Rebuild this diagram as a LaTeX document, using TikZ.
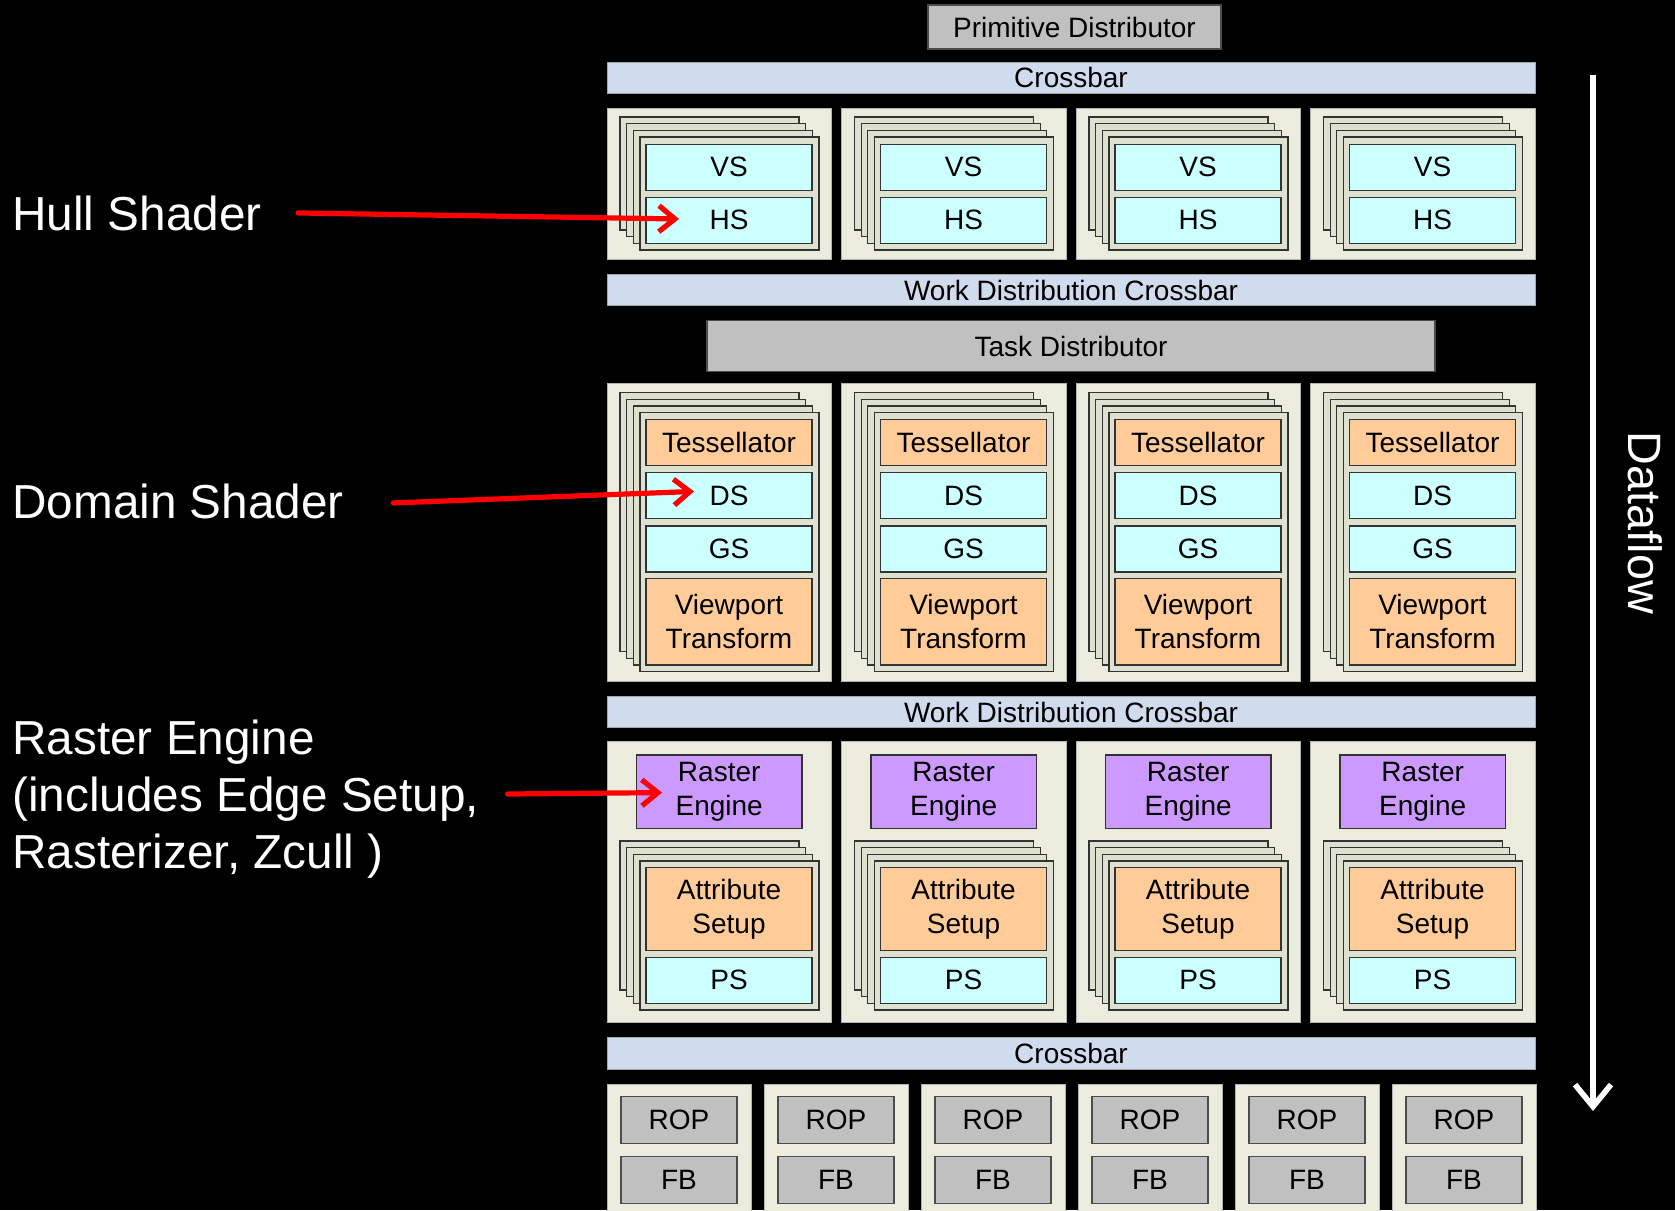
\documentclass[tikz,border=0pt]{standalone}
\usepackage{fontspec}
\setmainfont{Liberation Sans}
\usetikzlibrary{arrows.meta,positioning}

\definecolor{xbarblue}{RGB}{208,219,237}
\definecolor{colfill}{RGB}{235,235,222}
\definecolor{layerfill}{RGB}{222,225,207}
\definecolor{shaderblue}{RGB}{204,255,255}
\definecolor{fixorange}{RGB}{255,204,153}
\definecolor{rasterpurple}{RGB}{204,153,255}
\definecolor{unitgray}{RGB}{192,192,192}

\begin{document}
\begin{tikzpicture}[x=0.5pt,y=-0.5pt,
  every node/.style={inner sep=0pt,font=\fontsize{14}{17}\selectfont},
  bar/.style={draw=gray!70,line width=0.5pt,fill=xbarblue,minimum width=464pt,minimum height=15.5pt},
  colbox/.style={draw=gray!60,line width=0.5pt,fill=colfill,minimum width=112.25pt},
  layer/.style={draw=black!80,line width=0.6pt,fill=layerfill},
  unit/.style={draw=black!80,line width=0.6pt,minimum width=83pt,minimum height=23pt,align=center},
  shader/.style={unit,fill=shaderblue},
  fixfn/.style={unit,fill=fixorange},
  graybox/.style={draw=black!70,line width=0.6pt,fill=unitgray},
  callout/.style={text=white,font=\fontsize{23.85}{28.5}\selectfont,align=left},
  redarrow/.style={draw=red,line width=2.6pt,line cap=round,-{Straight Barb[length=8pt,width=13pt]}},
  flowarrow/.style={draw=white,line width=2.8pt,-{Straight Barb[length=11pt,width=18pt]}}]
\useasboundingbox (0,0) rectangle (1675,1210);
\clip (0,0) rectangle (1675,1210);
\fill[black] (0,0) rectangle (1675,1210);

% front end
\node[graybox,minimum width=146.5pt,minimum height=22pt] (primdist) at (1074.5,27) {Primitive Distributor};
\node[bar] (xbartop) at (1071,77.5) {Crossbar};

% vertex / hull shader clusters
\foreach \i in {0,...,3}{
  \pgfmathsetmacro{\cx}{607+234.5*\i}
  \node[colbox,minimum height=75.5pt] (vcol\i) at (\cx+112.25,183.5) {};
  \foreach \k in {3,2,1,0}{\draw[layer] (\cx+33-6.67*\k,137-6.67*\k) rectangle +(179,113);}
  \node[shader] (vs\i) at (\cx+122,167.3) {VS};
  \node[shader] (hs\i) at (\cx+122,220.3) {HS};
}
\node[bar] (wdcone) at (1071,290) {Work Distribution Crossbar};
\node[graybox,minimum width=364pt,minimum height=25.5pt] (taskdist) at (1071,346) {Task Distributor};

% tessellation clusters
\foreach \i in {0,...,3}{
  \pgfmathsetmacro{\cx}{607+234.5*\i}
  \node[colbox,minimum height=149.2pt] (tcol\i) at (\cx+112.25,532.5) {};
  \foreach \k in {3,2,1,0}{\draw[layer] (\cx+33-6.67*\k,412.7-6.67*\k) rectangle +(179,259);}
  \node[fixfn] (tess\i) at (\cx+122,442.7) {Tessellator};
  \node[shader] (ds\i) at (\cx+122,495.7) {DS};
  \node[shader] (gs\i) at (\cx+122,549) {GS};
  \node[fixfn,minimum height=43.2pt] (vpt\i) at (\cx+122,621.8) {Viewport\\Transform};
}
\node[bar] (wdctwo) at (1071,712) {Work Distribution Crossbar};

% raster clusters
\foreach \i in {0,...,3}{
  \pgfmathsetmacro{\cx}{607+234.5*\i}
  \node[colbox,minimum height=140.2pt] (rcol\i) at (\cx+112.25,881.8) {};
  \node[unit,fill=rasterpurple,minimum width=82.8pt,minimum height=36.7pt] (raster\i) at (\cx+112.2,791.7) {Raster\\Engine};
  \foreach \k in {3,2,1,0}{\draw[layer] (\cx+33-6.67*\k,861-6.67*\k) rectangle +(179,149);}
  \node[fixfn,minimum height=41.5pt] (attr\i) at (\cx+122,909.2) {Attribute\\Setup};
  \node[shader] (ps\i) at (\cx+122,980.3) {PS};
}
\node[bar,minimum height=16pt] (xbarbot) at (1071,1053.3) {Crossbar};

% ROP / framebuffer partitions
\foreach \j in {0,...,5}{
  \pgfmathsetmacro{\rx}{607+157*\j}
  \node[colbox,minimum width=72pt,minimum height=70pt] (part\j) at (\rx+72,1154.3) {};
  \node[graybox,minimum width=58pt,minimum height=23.3pt] (rop\j) at (\rx+72,1120) {ROP};
  \node[graybox,minimum width=58pt,minimum height=23.3pt] (fb\j) at (\rx+72,1180) {FB};
}

% callouts
\node[callout,anchor=base west] (hull) at (12,230) {Hull Shader};
\node[callout,anchor=base west] (domain) at (12,518) {Domain Shader};
\node[callout,anchor=west] (rasterlbl) at (12,799) {Raster Engine\\(includes Edge Setup,\\Rasterizer, Zcull )};
\coordinate (hstip) at (679,219);
\coordinate (dstip) at (694,491.4);
\coordinate (retip) at (662,792.6);
\draw[redarrow] ([xshift=18pt]hull.east) -- (hstip);
\draw[redarrow] ([xshift=24.5pt,yshift=-1pt]domain.east) -- (dstip);
\draw[redarrow] ([xshift=14pt,yshift=2.5pt]rasterlbl.east) -- (retip);

% dataflow
\coordinate (flowtop) at (1593,75);
\coordinate (flowend) at (1593,1111);
\draw[flowarrow] (flowtop) -- (flowend);
\node[rotate=-90,text=white,font=\fontsize{23.4}{28}\selectfont] (dataflow) at (1645,523) {Dataflow};
\end{tikzpicture}
\end{document}
